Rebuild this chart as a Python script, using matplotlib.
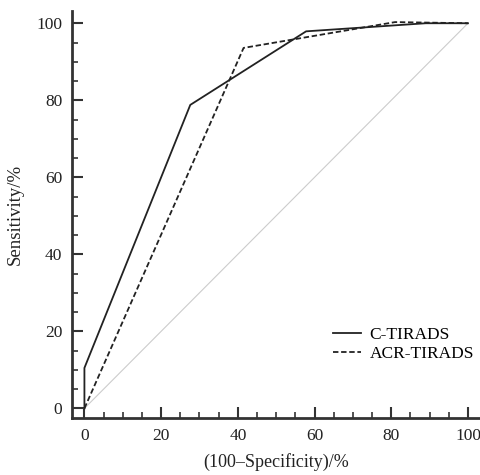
import matplotlib.pyplot as plt
from matplotlib.ticker import MultipleLocator

# ROC points, (100-specificity, sensitivity) in %
c_fpr = [0, 0, 27.6, 57.8, 89, 100]
c_tpr = [0, 10.5, 78.8, 97.9, 100, 100]
acr_fpr = [0, 41.5, 81, 100]
acr_tpr = [0, 93.6, 100.3, 100]
diag = [0, 100]

plt.rcParams['font.family'] = ['Liberation Serif', 'DejaVu Serif']

fig = plt.figure(figsize=(4.81, 4.75), dpi=100)
ax = fig.add_axes([0.150, 0.120, 0.850, 0.857])

ax.plot(diag, diag, color='#cccccc', lw=0.8)
ax.plot(c_fpr, c_tpr, color='#222222', lw=1.3, label='C-TIRADS')
ax.plot(acr_fpr, acr_tpr, color='#222222', lw=1.3, ls=(0, (3, 1.5)), label='ACR-TIRADS')

ax.set_xlim(-3.2, 103.4)
ax.set_ylim(-2.5, 103.2)

for s in ['top', 'right']:
    ax.spines[s].set_visible(False)
for s in ['left', 'bottom']:
    ax.spines[s].set_linewidth(2)
    ax.spines[s].set_color('#333333')

ax.xaxis.set_major_locator(MultipleLocator(20))
ax.xaxis.set_minor_locator(MultipleLocator(5))
ax.yaxis.set_major_locator(MultipleLocator(20))
ax.yaxis.set_minor_locator(MultipleLocator(5))
ax.tick_params(which='major', direction='in', length=8, width=1.5, color='#333333',
               labelsize=12.5, pad=7, labelcolor='#222222')
ax.tick_params(which='minor', direction='in', length=4, width=1.2, color='#333333')

ax.set_xlabel('(100\u2013Specificity)/%', fontsize=13, labelpad=7, color='#222222')
ax.set_ylabel('Sensitivity/%', fontsize=13.5, labelpad=9, color='#222222')

ax.legend(loc='lower right', bbox_to_anchor=(1.0, 0.12), frameon=False, fontsize=12.5,
          handlelength=1.6, handletextpad=0.5, labelspacing=0.2, borderaxespad=0.0)

fig.savefig('out.png', dpi=100)
